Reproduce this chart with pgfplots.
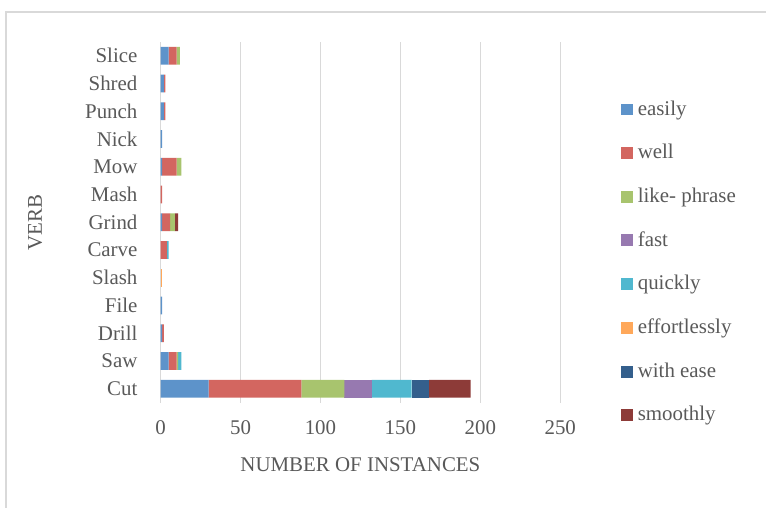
\documentclass[border=0pt]{standalone}
\usepackage{pgfplots}
\pgfplotsset{compat=1.18}
\usepackage{fontspec}
\setmainfont{Liberation Serif}

\definecolor{txt}{HTML}{595959}
\definecolor{gridc}{HTML}{D9D9D9}
\definecolor{cEasily}{HTML}{5D93CA}
\definecolor{cWell}{HTML}{D36660}
\definecolor{cLike}{HTML}{A8C46E}
\definecolor{cFast}{HTML}{9779B0}
\definecolor{cQuick}{HTML}{50B8CF}
\definecolor{cEffort}{HTML}{FFA85A}
\definecolor{cEase}{HTML}{345F8C}
\definecolor{cSmooth}{HTML}{8D3B38}

% verbs bottom to top: Cut, Saw, Drill, File, Slash, Carve, Grind, Mash, Mow, Nick, Punch, Shred, Slice
\pgfplotstableread{
y easily well like fast quickly effortlessly withease smoothly
0  30 58 27 17 25 0 11 26
1   5  5  1  0  2 0  0  0
2   1  1  0  0  0 0  0  0
3   1  0  0  0  0 0  0  0
4   0  0  0  0  0 1  0  0
5   0  4  0  0  1 0  0  0
6   1  5  3  0  0 0  0  2
7   0  1  0  0  0 0  0  0
8   1  9  3  0  0 0  0  0
9   1  0  0  0  0 0  0  0
10  2  1  0  0  0 0  0  0
11  2  1  0  0  0 0  0  0
12  5  5  2  0  0 0  0  0
}\verbs

\begin{document}
\fontsize{21}{25}\selectfont
\begin{tikzpicture}
\path (0,0) rectangle (767bp,508bp);
\draw[gridc, line width=1.2bp] (6bp,0) -- (6bp,496bp) -- (767bp,496bp);
\begin{axis}[
  at={(160.7bp,105bp)}, anchor=south west,
  scale only axis, width=400bp, height=361bp,
  xbar stacked, bar width=17.7bp,
  xmin=0, xmax=250, ymin=-0.5, ymax=12.5,
  xtick={0,50,...,250},
  ytick={0,...,12},
  yticklabels={Cut,Saw,Drill,File,Slash,Carve,Grind,Mash,Mow,Nick,Punch,Shred,Slice},
  axis line style={draw=none},
  major tick length=0pt,
  xmajorgrids, grid style={gridc, line width=1.5bp},
  /pgf/number format/assume math mode=true,
  tick label style={font=\fontsize{21}{25}\selectfont, text=txt},
  xticklabel style={yshift=-11bp},
  yticklabel style={xshift=-16bp},
  xlabel={NUMBER OF INSTANCES}, ylabel={VERB},
  label style={font=\fontsize{21}{25}\selectfont, text=txt},
  xlabel style={at={(axis description cs:0.5,-0.172)}, anchor=center},
  ylabel style={at={(axis description cs:-0.314,0.5)}, anchor=center, rotate=0},
  legend cell align=left,
  legend style={draw=none, fill=none, at={(axis description cs:1.151,0.389)},
    anchor=west, row sep=24bp, inner sep=0pt,
    font=\fontsize{21}{25}\selectfont, text=txt,
    nodes={inner sep=1pt},
    /tikz/every odd column/.append style={column sep=4bp}},
  legend image code/.code={\fill[#1] (0bp,-6bp) rectangle (12bp,6bp);},
  every axis plot/.append style={draw=none},
]
\addplot[fill=cEasily]  table[x=easily, y=y]{\verbs};
\addplot[fill=cWell]    table[x=well, y=y]{\verbs};
\addplot[fill=cLike]    table[x=like, y=y]{\verbs};
\addplot[fill=cFast]    table[x=fast, y=y]{\verbs};
\addplot[fill=cQuick]   table[x=quickly, y=y]{\verbs};
\addplot[fill=cEffort]  table[x=effortlessly, y=y]{\verbs};
\addplot[fill=cEase]    table[x=withease, y=y]{\verbs};
\addplot[fill=cSmooth]  table[x=smoothly, y=y]{\verbs};
\legend{easily,well,like- phrase,fast,quickly,effortlessly,with ease,smoothly}
\end{axis}
\end{tikzpicture}
\end{document}
